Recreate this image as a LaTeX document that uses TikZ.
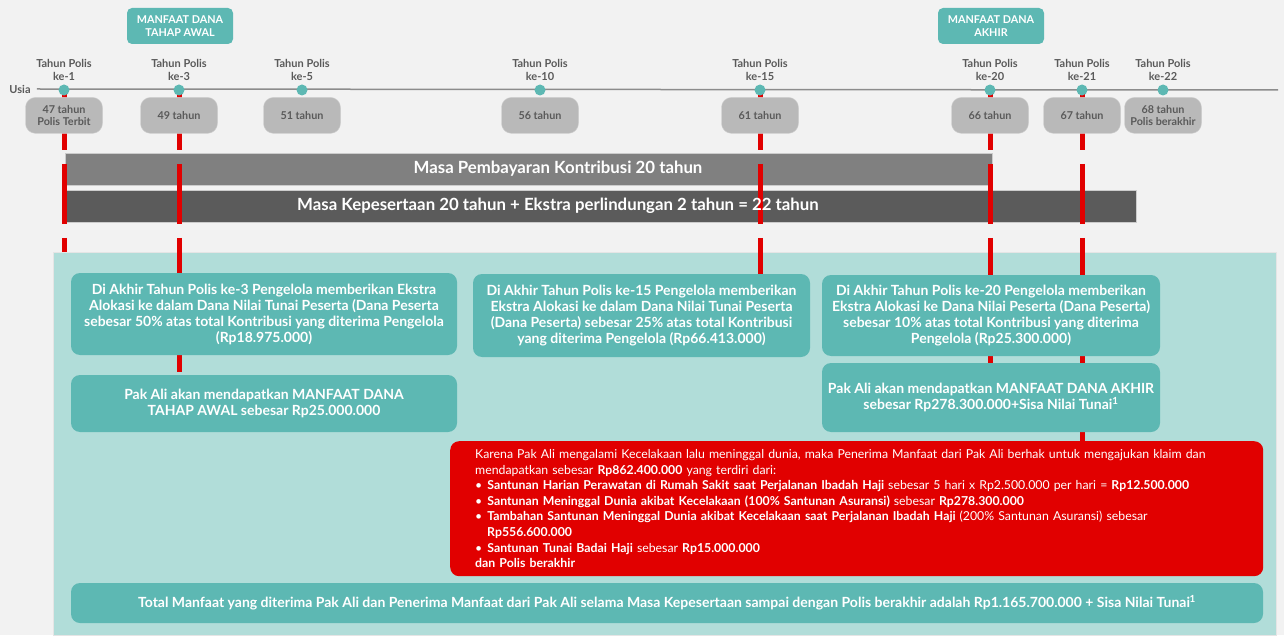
\documentclass[tikz,border=0pt]{standalone}
\usepackage{fontspec}
\setmainfont{Lato}
\usepackage{tikz}
\usetikzlibrary{positioning, calc}

\definecolor{bgabu}{HTML}{F2F2F2}
\definecolor{tosca}{HTML}{5DB8B3}
\definecolor{toscamuda}{HTML}{B1DDD9}
\definecolor{teksabu}{HTML}{5A5A5A}
\definecolor{usiaabu}{HTML}{B9B9B9}
\definecolor{barterang}{HTML}{808080}
\definecolor{bargelap}{HTML}{5B5B5B}
\definecolor{merah}{HTML}{E10000}

\pgfdeclarelayer{back}
\pgfdeclarelayer{lines}
\pgfsetlayers{back,lines,main}

\begin{document}
\begin{tikzpicture}[x=1pt, y=-1pt,
    tahun/.style={text=teksabu, font=\bfseries\fontsize{11}{13}\selectfont, align=center, inner sep=1pt},
    titik/.style={circle, fill=tosca, minimum size=11pt, inner sep=0pt},
    usia/.style={draw=black!18, fill=usiaabu, rounded corners=10pt, minimum width=77pt, minimum height=36pt,
        text=teksabu, font=\bfseries\fontsize{10.8}{12.5}\selectfont, align=center, inner sep=0pt},
    manfaat/.style={fill=tosca, rounded corners=5pt, minimum width=106pt, minimum height=36pt,
        text=white, font=\bfseries\fontsize{10.8}{13}\selectfont, align=center, inner sep=0pt},
    batang/.style={draw=black!20, line width=0.8pt, minimum height=32pt, inner sep=0pt},
    batangteks/.style={text=white, font=\bfseries\fontsize{16.8}{18}\selectfont},
    info/.style={fill=tosca, rounded corners=9pt, text=white, font=\bfseries\fontsize{14}{16}\selectfont,
        align=center, inner sep=0pt},
    garis/.style={draw=merah, line width=5pt, dash pattern=on 60pt off 14pt},
]
    % Background
    \begin{pgfonlayer}{back}
    \fill[bgabu] (0,0) rectangle (1284,635);
    \node (panel) [fill=toscamuda, draw=black!10, line width=1pt, anchor=north west,
        minimum width=1223pt, minimum height=383pt, inner sep=0pt] at (53,252) {};
    \node (bayar) [batang, fill=barterang, minimum width=927pt] at (528.5,169) {};
    \node (peserta) [batang, fill=bargelap, minimum width=1071pt] at (600.5,206) {};
    \end{pgfonlayer}
    \useasboundingbox (0,0) rectangle (1284,635);

    \node [batangteks] at (558,169) {Masa Pembayaran Kontribusi 20 tahun};
    \node [batangteks] at (558,206) {Masa Kepesertaan 20 tahun + Ekstra perlindungan 2 tahun = 22 tahun};

    % Timeline
    \node (usia) [text=teksabu, font=\bfseries\fontsize{11}{12}\selectfont, inner sep=1pt] at (20,89) {Usia};
    \draw[draw=black!45, line width=1.5pt] (usia.east) ++(5pt,0) -- (1278,90);

    \foreach \x/\k/\u in {64/1/{47 tahun\\Polis Terbit}, 179/3/{49 tahun}, 302/5/{51 tahun},
        540/10/{56 tahun}, 760/15/{61 tahun}, 990/20/{66 tahun}, 1082/21/{67 tahun},
        1163/22/{68 tahun\\Polis berakhir}} {
        \node (k\k) [titik] at (\x,90) {};
        \node (th\k) [tahun, above=3pt of k\k] {Tahun Polis\\ke-\k};
        \node (u\k) [usia, below=1.5pt of k\k] {\u};
    }

    \node (awalmf) [manfaat] at (180,26) {MANFAAT DANA\\TAHAP AWAL};
    \node (akhirmf) [manfaat] at (991,26) {MANFAAT DANA\\AKHIR};

    % Boxes
    \node (ext3) [info, minimum width=386pt, minimum height=82pt] at (264,314)
        {Di Akhir Tahun Polis ke-3 Pengelola memberikan Ekstra\\
         Alokasi ke dalam Dana Nilai Tunai Peserta (Dana Peserta\\
         sebesar 50\% atas total Kontribusi yang diterima Pengelola\\
         (Rp18.975.000)};
    \node (awal) [info, minimum width=386pt, minimum height=57pt] at (264,403.5)
        {Pak Ali akan mendapatkan MANFAAT DANA\\TAHAP AWAL sebesar Rp25.000.000};
    \node (ext15) [info, minimum width=337pt, minimum height=83pt] at (641.5,315.5)
        {Di Akhir Tahun Polis ke-15 Pengelola memberikan\\
         Ekstra Alokasi ke dalam Dana Nilai Tunai Peserta\\
         (Dana Peserta) sebesar 25\% atas total Kontribusi\\
         yang diterima Pengelola (Rp66.413.000)};
    \node (ext20) [info, minimum width=338pt, minimum height=81pt] at (991,315.5)
        {Di Akhir Tahun Polis ke-20 Pengelola memberikan\\
         Ekstra Alokasi ke Dana Nilai Peserta (Dana Peserta)\\
         sebesar 10\% atas total Kontribusi yang diterima\\
         Pengelola (Rp25.300.000)};
    \node (akhir) [info, minimum width=338pt, minimum height=69pt] at (991,397.5)
        {Pak Ali akan mendapatkan MANFAAT DANA AKHIR\\sebesar Rp278.300.000+Sisa Nilai Tunai\textsuperscript{1}};
    \node (klaim) [fill=merah, rounded corners=9pt, text=white, anchor=north west, align=left,
        minimum width=813pt, minimum height=135pt, text width=763pt, inner xsep=25pt, inner ysep=4pt,
        font=\fontsize{12.3}{15.6}\selectfont] at (450,441)
        {Karena Pak Ali mengalami Kecelakaan lalu meninggal dunia, maka Penerima Manfaat dari Pak Ali berhak untuk mengajukan klaim dan\\
         mendapatkan sebesar \textbf{Rp862.400.000} yang terdiri dari:\\
         \textbullet\hspace{5pt}\textbf{Santunan Harian Perawatan di Rumah Sakit saat Perjalanan Ibadah Haji} sebesar 5 hari x Rp2.500.000 per hari = \textbf{Rp12.500.000}\\
         \textbullet\hspace{5pt}\textbf{Santunan Meninggal Dunia akibat Kecelakaan (100\% Santunan Asuransi)} sebesar \textbf{Rp278.300.000}\\
         \textbullet\hspace{5pt}\textbf{Tambahan Santunan Meninggal Dunia akibat Kecelakaan saat Perjalanan Ibadah Haji} (200\% Santunan Asuransi) sebesar\\
         \hspace*{12pt}\textbf{Rp556.600.000}\\
         \textbullet\hspace{5pt}\textbf{Santunan Tunai Badai Haji} sebesar \textbf{Rp15.000.000}\\
         \textbf{dan Polis berakhir}};
    \node (total) [info, minimum width=1192pt, minimum height=40pt] at (667,603)
        {Total Manfaat yang diterima Pak Ali dan Penerima Manfaat dari Pak Ali selama Masa Kepesertaan sampai dengan Polis berakhir adalah Rp1.165.700.000 + Sisa Nilai Tunai\textsuperscript{1}};

    % Lines
    \begin{pgfonlayer}{lines}
    \draw[garis] (k1.center) -- (k1 |- panel.north);
    \draw[garis] (k3.center) -- (k3 |- awal.north);
    \draw[garis] (k15.center) -- (k15 |- ext15.north);
    \draw[garis] (k20.center) -- (k20 |- akhir.north);
    \draw[garis] (k21.center) -- (k21 |- klaim.north);
    \end{pgfonlayer}
\end{tikzpicture}
\end{document}
